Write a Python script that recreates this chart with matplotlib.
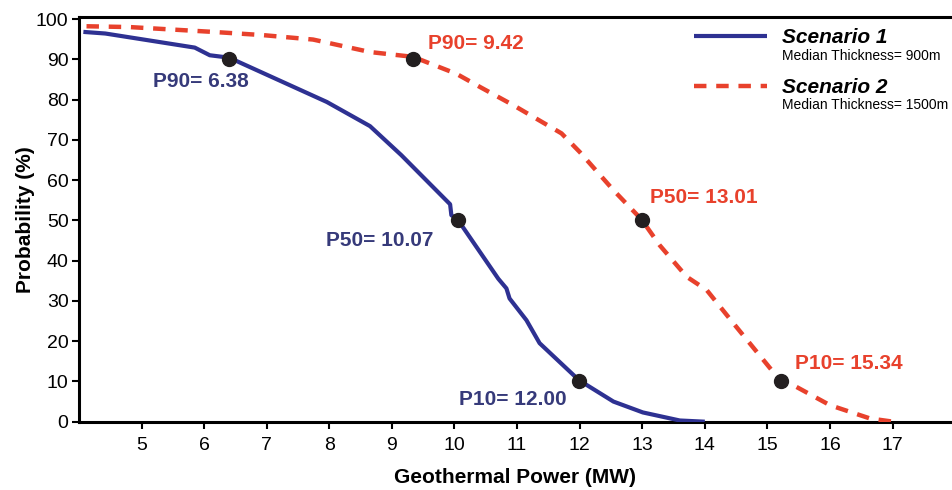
import matplotlib
matplotlib.use("Agg")
import matplotlib.pyplot as plt

plt.rcParams["font.family"] = ["Liberation Sans", "DejaVu Sans"]

# Scenario 1 (median thickness 900 m)
s1_power = [4.07, 4.42, 5.85, 6.09, 6.40, 7.96, 8.65, 9.15, 9.93, 9.95, 10.06,
            10.70, 10.83, 10.88, 11.15, 11.36, 11.99, 12.54, 13.01, 13.60, 14.00]
s1_prob = [96.8, 96.4, 92.9, 91.0, 90.4, 79.4, 73.4, 66.2, 54.0, 51.3, 50.0,
           35.5, 33.1, 30.6, 25.2, 19.5, 10.3, 5.0, 2.3, 0.3, 0.0]

# Scenario 2 (median thickness 1500 m)
s2_power = [4.12, 4.81, 6.14, 6.94, 7.74, 8.65, 9.34, 10.03, 10.41, 10.94, 11.71,
            12.00, 12.54, 12.99, 13.28, 13.71, 14.03, 14.48, 15.09, 15.22, 15.41,
            16.00, 16.64, 17.01]
s2_prob = [98.2, 98.0, 96.8, 96.0, 94.9, 91.8, 90.6, 86.4, 83.1, 78.6, 71.6,
           67.0, 57.5, 50.2, 43.8, 36.0, 32.7, 24.0, 12.4, 10.3, 9.1,
           4.1, 0.8, 0.0]

# P90 / P50 / P10 markers as drawn
s1_pts_x = [6.40, 10.06, 11.99]
s2_pts_x = [9.34, 12.99, 15.22]
pts_y = [90, 50, 10]
s1_labels = ["P90= 6.38", "P50= 10.07", "P10= 12.00"]
s2_labels = ["P90= 9.42", "P50= 13.01", "P10= 15.34"]

x_ticks = list(range(5, 18))
y_ticks = list(range(0, 101, 10))

blue = "#2e3192"
blue_txt = "#363a7a"
red = "#e8412c"

fig = plt.figure(figsize=(9.52, 4.90), dpi=100)
ax = fig.add_axes([79 / 952, 1 - 421.7 / 490, 1 - 79 / 952, (421.7 - 17) / 490])

l1, = ax.plot(s1_power, s1_prob, color=blue, lw=3.0, solid_capstyle="butt", zorder=3)
l2, = ax.plot(s2_power, s2_prob, color=red, lw=3.2, dashes=(2.8, 2.2),
              dash_capstyle="butt", zorder=3)
ax.plot(s1_pts_x, pts_y, "o", color="#231f20", ms=10, zorder=4)
ax.plot(s2_pts_x, pts_y, "o", color="#231f20", ms=10, zorder=4)

# value labels
s1_lab_pos = [(5.18, 84.4, "left"), (9.66, 45.1, "right"), (10.07, 5.4, "left")]
s2_lab_pos = [(9.57, 94.0, "left"), (13.12, 55.8, "left"), (15.44, 14.5, "left")]
for (x, y, ha), t in zip(s1_lab_pos, s1_labels):
    ax.text(x, y, t, color=blue_txt, fontsize=15, fontweight="bold", ha=ha, va="center")
for (x, y, ha), t in zip(s2_lab_pos, s2_labels):
    ax.text(x, y, t, color=red, fontsize=15, fontweight="bold", ha=ha, va="center")

ax.set_xlim(4.0, 17.95)
ax.set_ylim(0, 100.5)
ax.set_xticks(x_ticks)
ax.set_yticks(y_ticks)
ax.tick_params(labelsize=14, width=1.5, length=5, direction="out")
ax.tick_params(axis="y", pad=2.5)
ax.tick_params(axis="x", pad=6)
for side in ["left", "bottom", "top"]:
    ax.spines[side].set_linewidth(2.2)
ax.spines["right"].set_visible(False)

ax.set_xlabel("Geothermal Power (MW)", fontsize=15, fontweight="bold", labelpad=10)
ax.set_ylabel("Probability (%)", fontsize=15, fontweight="bold", labelpad=1)

leg = ax.legend([l1, l2], ["Scenario 1", "Scenario 2"], loc="upper left",
                bbox_to_anchor=(0.7045, 0.972), frameon=False, borderpad=0,
                borderaxespad=0, handlelength=3.5, handletextpad=0.7,
                labelspacing=1.48,
                prop={"size": 15, "weight": "bold", "style": "italic"})

fig.canvas.draw()
inv = ax.transAxes.inverted()
for txt, sub in zip(leg.get_texts(), ["Median Thickness= 900m", "Median Thickness= 1500m"]):
    bb = txt.get_window_extent()
    x0, y0 = inv.transform((bb.x0, bb.y0))
    ax.text(x0, y0 - 0.003, sub, transform=ax.transAxes, fontsize=10,
            ha="left", va="top")

fig.savefig("out.png", dpi=100)
